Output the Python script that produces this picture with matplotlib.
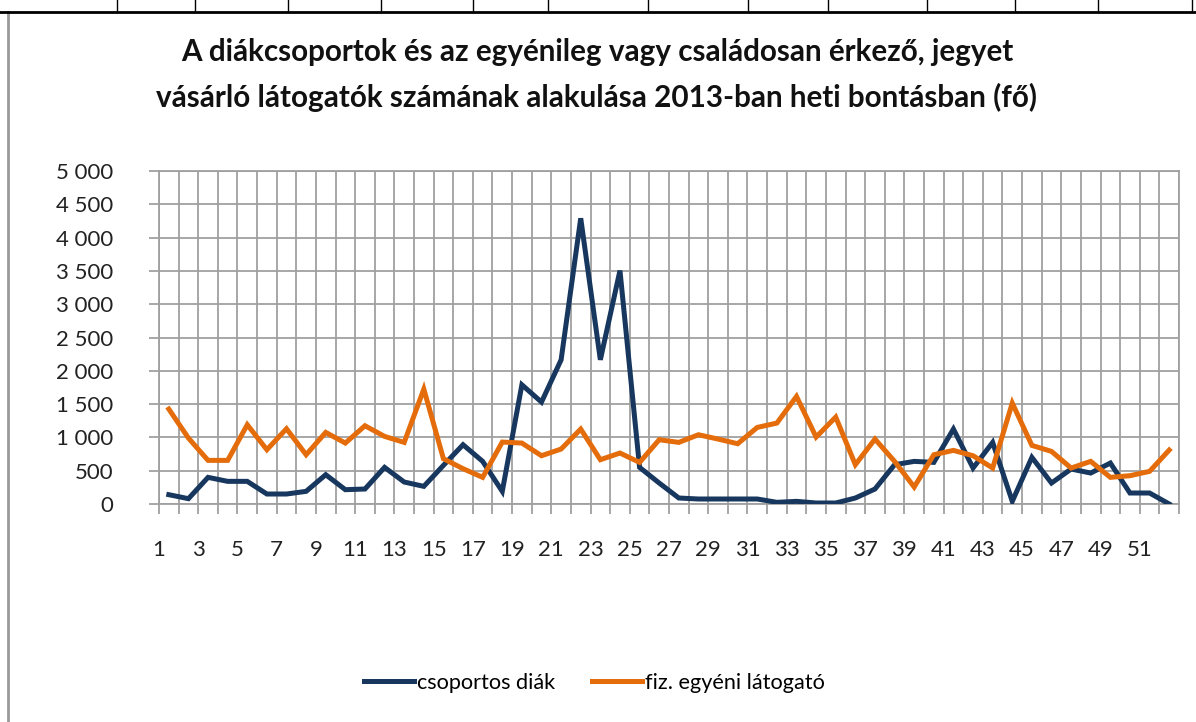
import matplotlib.pyplot as plt
from matplotlib.lines import Line2D
from matplotlib.ticker import FixedLocator

plt.rcParams['font.family'] = ['Lato', 'DejaVu Sans']

# heti adatok (fő), 2013
weeks = list(range(1, 53))
csoportos_diak = [140, 80, 400, 340, 340, 150, 150, 190, 440, 215,
                  225, 550, 330, 265, 580, 890, 640, 190, 1790, 1530,
                  2165, 4290, 2165, 3505, 550, 315, 90, 75, 75, 75,
                  75, 25, 40, 15, 15, 90, 225, 590, 640, 625,
                  1125, 540, 925, 40, 700, 315, 525, 465, 615, 165,
                  165, 0]
egyeni_latogato = [1425, 990, 655, 655, 1190, 815, 1130, 740, 1075, 915,
                   1175, 1015, 925, 1725, 680, 530, 400, 930, 915, 725,
                   825, 1125, 665, 765, 625, 965, 925, 1040, 975, 905,
                   1150, 1215, 1615, 1005, 1305, 590, 975, 640, 255, 740,
                   805, 725, 540, 1515, 880, 790, 540, 640, 400, 425,
                   490, 810]
series_names = ['csoportos diák', 'fiz. egyéni látogató']
y_ticks = list(range(0, 5001, 500))

title = ('A diákcsoportok és az egyénileg vagy családosan érkező, jegyet\n'
         'vásárló látogatók számának alakulása 2013-ban heti bontásban (fő)')

BLUE = '#17375E'
ORANGE = '#E46C0A'
GRID = '#A0A0A0'

fig = plt.figure(figsize=(11.96, 7.22), dpi=100)
ax = fig.add_axes([159 / 1196, 218 / 722, 1020 / 1196, 333 / 722])

ax.plot(weeks, csoportos_diak, color=BLUE, lw=3.6, solid_joinstyle='miter',
        label=series_names[0], zorder=3)
ax.plot(weeks, egyeni_latogato, color=ORANGE, lw=3.6, solid_joinstyle='miter',
        label=series_names[1], zorder=3)

ax.set_xlim(0.5, 52.5)
ax.set_ylim(0, 5000)

# category boundaries carry the grid, ticks and labels (Excel style)
bounds = [w - 0.5 for w in weeks] + [52.5]
xlabels = [str(w) if w % 2 == 1 and w <= 51 else '' for w in weeks] + ['']
ax.xaxis.set_major_locator(FixedLocator(bounds))
ax.set_xticklabels(xlabels)
ax.set_yticks(y_ticks)
ax.set_yticklabels([f'{v:,}'.replace(',', ' ') for v in y_ticks])

ax.grid(True, color=GRID, lw=1.3)
ax.set_axisbelow(True)
for s in ax.spines.values():
    s.set_color(GRID)
    s.set_linewidth(1.3)
ax.tick_params(axis='both', direction='out', color=GRID, width=1.3,
               length=7, labelsize=16, labelcolor='#222222')
ax.tick_params(axis='x', pad=19)
ax.tick_params(axis='y', pad=26)

fig.text(0.499, 0.896, title, ha='center', va='center', fontsize=21.3,
         fontweight='bold', linespacing=1.7, color='#111111')

handles = [Line2D([], [], color=BLUE, lw=3.6),
           Line2D([], [], color=ORANGE, lw=3.6)]
fig.legend(handles, series_names, loc='center', bbox_to_anchor=(0.497, 0.054),
           ncol=2, frameon=False, fontsize=15.6, handlelength=2.3,
           handletextpad=0.15, columnspacing=1.7)

# page border pieces around the chart
fig.add_artist(Line2D([8 / 1196, 8 / 1196], [0, 1 - 12 / 722],
                      transform=fig.transFigure, color='#999999', lw=2))
fig.add_artist(Line2D([0, 1], [1 - 12 / 722, 1 - 12 / 722],
                      transform=fig.transFigure, color='black', lw=2))
for xp in [117, 195, 288, 381, 473, 548, 648, 748, 828, 927, 1015, 1098, 1192]:
    fig.add_artist(Line2D([xp / 1196, xp / 1196], [1 - 12 / 722, 1],
                          transform=fig.transFigure, color='black', lw=1))

fig.savefig('out.png', dpi=100)
